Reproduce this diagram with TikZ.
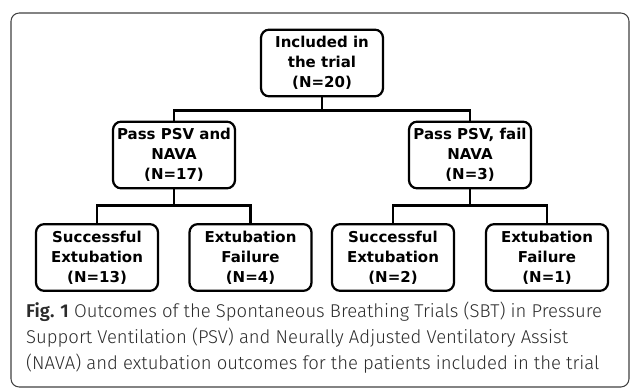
\documentclass[tikz,border=0pt]{standalone}
\usepackage{fontspec}
\setmainfont{Fira Sans}[UprightFont={* Light}, BoldFont={* SemiBold}]
\newfontfamily\boxfont{DejaVu Sans}
\definecolor{captext}{HTML}{2B2B2B}
\tikzset{
  outcome/.style={draw, line width=1.9pt, rounded corners=7pt, minimum width=3.66cm,
    minimum height=2.0cm, align=center, inner sep=0pt,
    font=\boxfont\bfseries\fontsize{12.8}{17}\selectfont},
  link/.style={line width=1.9pt}
}
\begin{document}
\begin{tikzpicture}[x=0.03cm,y=-0.03cm]
\useasboundingbox (0,0) rectangle (630,388);
\draw[black!75, line width=0.9pt, rounded corners=7pt] (11,13) rectangle (629,387);
\node[outcome] (incl) at (322,63) {Included in\\the trial\\(N=20)};
\node[outcome] (pass) at (174,155) {Pass PSV and\\NAVA\\(N=17)};
\node[outcome] (fail) at (470,155) {Pass PSV, fail\\NAVA\\(N=3)};
\node[outcome] (succA) at (97,257.5) {Successful\\Extubation\\(N=13)};
\node[outcome] (failA) at (250.5,257.5) {Extubation\\Failure\\(N=4)};
\node[outcome] (succB) at (393,257.5) {Successful\\Extubation\\(N=2)};
\node[outcome] (failB) at (547,257.5) {Extubation\\Failure\\(N=1)};
\draw[link] (incl.south) -- ++(0,13) -| (pass.north);
\draw[link] (incl.south) -- ++(0,13) -| (fail.north);
\draw[link] (pass.south) -- ++(0,16) -| (succA.north);
\draw[link] (pass.south) -- ++(0,16) -| (failA.north);
\draw[link] (fail.south) -- ++(0,16) -| (succB.north);
\draw[link] (fail.south) -- ++(0,16) -| (failB.north);
\node[anchor=north west, align=left, inner sep=0pt, text=captext,
  font=\fontsize{15.8}{22.2}\selectfont] (cap) at (26,302)
  {\textbf{Fig. 1} Outcomes of the Spontaneous Breathing Trials (SBT) in Pressure\\
   Support Ventilation (PSV) and Neurally Adjusted Ventilatory Assist\\
   (NAVA) and extubation outcomes for the patients included in the trial};
\end{tikzpicture}
\end{document}
